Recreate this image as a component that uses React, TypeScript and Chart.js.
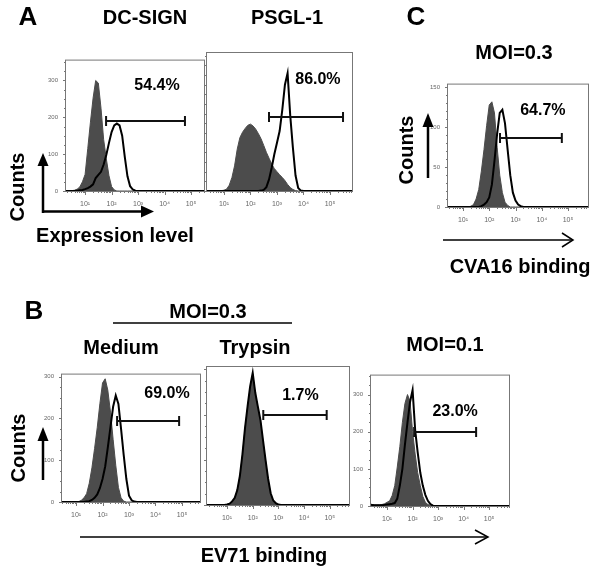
import React, { useEffect, useRef } from "react";
import { Chart, registerables } from "chart.js";
Chart.register(...registerables);

// Histogram bin centres (fluorescence intensity, 0.1-decade bins from 10^0.2 to 10^4)
const BINS = [1.58, 2.0, 2.51, 3.16, 3.98, 5.01, 6.31, 7.94, 10, 12.6, 15.8, 20, 25.1, 31.6, 39.8, 50.1, 63.1, 79.4, 100, 126, 158, 200, 251, 316, 398, 501, 631, 794, 1000, 1259, 1585, 1995, 2512, 3162, 3981, 5012, 6310, 7943, 10000];
const X_END = 1000000;

// Panel A: DC-SIGN
const A1_GRAY = [0, 0, 0, 1, 2, 5, 11, 25, 45, 115, 185, 252, 300, 293, 225, 140, 88, 42, 12, 3, 0, 0, 0, 0, 0, 0, 0, 0, 0, 0, 0, 0, 0, 0, 0, 0, 0, 0, 0];
const A1_BLACK = [0, 0, 0, 0, 0, 1, 2, 3, 5, 8, 12, 18, 35, 44, 52, 72, 98, 130, 160, 178, 183, 178, 150, 92, 40, 13, 4, 1, 0, 0, 0, 0, 0, 0, 0, 0, 0, 0, 0];
// Panel A: PSGL-1
const A2_GRAY = [0, 0, 0, 0, 0, 0, 0, 1, 2, 5, 15, 35, 65, 108, 138, 152, 162, 170, 173, 168, 160, 148, 135, 118, 100, 85, 70, 58, 50, 42, 35, 27, 17, 9, 4, 1, 0, 0, 0];
const A2_BLACK = [0, 0, 0, 0, 0, 0, 0, 0, 0, 0, 0, 0, 0, 0, 0, 0, 0, 0, 0, 0, 0, 0, 1, 3, 10, 30, 60, 95, 125, 155, 210, 275, 305, 195, 112, 40, 8, 1, 0];
// Panel C: CVA16 MOI=0.3
const C_GRAY = [0, 0, 0, 0, 0, 0, 0, 0, 0, 0, 0, 1, 3, 10, 22, 45, 72, 102, 128, 132, 118, 75, 40, 18, 6, 2, 0, 0, 0, 0, 0, 0, 0, 0, 0, 0, 0, 0, 0];
const C_BLACK = [0, 0, 0, 0, 0, 0, 0, 0, 0, 0, 0, 0, 0, 0, 0, 1, 3, 6, 12, 28, 58, 92, 118, 122, 105, 72, 40, 18, 8, 3, 1, 0, 0, 0, 0, 0, 0, 0, 0];
// Panel B: Medium
const B1_GRAY = [0, 0, 0, 0, 0, 0, 0, 0, 0, 1, 4, 10, 20, 45, 82, 128, 178, 235, 285, 295, 268, 215, 150, 88, 35, 10, 2, 0, 0, 0, 0, 0, 0, 0, 0, 0, 0, 0, 0];
const B1_BLACK = [0, 0, 0, 0, 0, 0, 0, 0, 0, 0, 0, 0, 1, 2, 5, 10, 18, 33, 55, 85, 130, 180, 228, 255, 235, 175, 112, 55, 15, 4, 1, 0, 0, 0, 0, 0, 0, 0, 0];
// Panel B: Trypsin
const B2_GRAY = [0, 0, 0, 0, 0, 0, 0, 0, 1, 3, 8, 15, 32, 62, 110, 168, 215, 258, 290, 245, 215, 185, 140, 98, 55, 24, 9, 3, 1, 0, 0, 0, 0, 0, 0, 0, 0, 0, 0];
const B2_BLACK = [0, 0, 0, 0, 0, 0, 0, 0, 1, 3, 8, 16, 33, 64, 112, 170, 218, 262, 292, 248, 218, 188, 144, 100, 58, 26, 10, 4, 1, 0, 0, 0, 0, 0, 0, 0, 0, 0, 0];
// Panel B: MOI=0.1
const B3_GRAY = [8, 6, 4, 3, 3, 3, 4, 6, 10, 14, 28, 55, 105, 160, 225, 276, 300, 282, 200, 140, 90, 55, 26, 10, 4, 1, 0, 0, 0, 0, 0, 0, 0, 0, 0, 0, 0, 0, 0];
const B3_BLACK = [6, 4, 3, 2, 2, 2, 2, 3, 4, 5, 6, 8, 20, 55, 100, 165, 225, 280, 312, 205, 145, 90, 55, 30, 14, 5, 1, 0, 0, 0, 0, 0, 0, 0, 0, 0, 0, 0, 0];

// Gates: [start, end, count level]; labels: [text, x, y]
const A1_GATE = [62, 59000, 191];
const A2_GATE = [500, 310000, 191];
const C_GATE = [257, 58000, 86];
const B1_GATE = [355, 78000, 193];
const B2_GATE = [258, 76000, 198];
const B3_GATE = [115, 31000, 200];
const A1_PCT: [string, number, number] = ["54.4%", 5200, 287];
const A2_PCT: [string, number, number] = ["86.0%", 35000, 287];
const C_PCT: [string, number, number] = ["64.7%", 11000, 121];
const B1_PCT: [string, number, number] = ["69.0%", 27000, 259];
const B2_PCT: [string, number, number] = ["1.7%", 7200, 241];
const B3_PCT: [string, number, number] = ["23.0%", 4650, 254];

const X_TICK_VALUES = [10, 100, 1000, 10000, 100000];
const X_TICK_LABELS = ["10\u00b9", "10\u00b2", "10\u00b3", "10\u2074", "10\u2075"];
const X_DECADES = [1, 10, 100, 1000, 10000, 100000];
const Y_TICKS_300 = [0, 100, 200, 300];
const Y_TICKS_150 = [0, 50, 100, 150];

type Panel = {
  key: string;
  left: number; top: number; right: number; bottom: number;
  xMin: number; xMax: number; yMax: number;
  yTicks: number[]; showY: boolean; yMajor: number; yMinor: number;
  gray: number[]; black: number[]; gate: number[]; pct: [string, number, number];
};

const PANELS: Panel[] = [
  { key: "a1", left: 66, top: 54, right: 204, bottom: 191, xMin: 1.9, xMax: 309000, yMax: 354, yTicks: Y_TICKS_300, showY: true, yMajor: 100, yMinor: 25, gray: A1_GRAY, black: A1_BLACK, gate: A1_GATE, pct: A1_PCT },
  { key: "a2", left: 207, top: 53, right: 352, bottom: 191, xMin: 2.29, xMax: 676000, yMax: 357, yTicks: Y_TICKS_300, showY: false, yMajor: 100, yMinor: 25, gray: A2_GRAY, black: A2_BLACK, gate: A2_GATE, pct: A2_PCT },
  { key: "c", left: 448, top: 78, right: 588, bottom: 207, xMin: 2.69, xMax: 575000, yMax: 153.6, yTicks: Y_TICKS_150, showY: true, yMajor: 50, yMinor: 10, gray: C_GRAY, black: C_BLACK, gate: C_GATE, pct: C_PCT },
  { key: "b1", left: 62, top: 368, right: 200, bottom: 502, xMin: 2.95, xMax: 479000, yMax: 305, yTicks: Y_TICKS_300, showY: true, yMajor: 100, yMinor: 25, gray: B1_GRAY, black: B1_BLACK, gate: B1_GATE, pct: B1_PCT },
  { key: "b2", left: 207, top: 367, right: 349, bottom: 505, xMin: 1.66, xMax: 562000, yMax: 305, yTicks: Y_TICKS_300, showY: false, yMajor: 100, yMinor: 25, gray: B2_GRAY, black: B2_BLACK, gate: B2_GATE, pct: B2_PCT },
  { key: "b3", left: 371, top: 369, right: 509, bottom: 506, xMin: 2.34, xMax: 603000, yMax: 351, yTicks: Y_TICKS_300, showY: true, yMajor: 100, yMinor: 25, gray: B3_GRAY, black: B3_BLACK, gate: B3_GATE, pct: B3_PCT },
];

const YW = 22, XH = 18, PT = 5, PR = 4;
const FONT = '"Liberation Sans", Arial, Helvetica, sans-serif';
const FILL = "rgb(76,76,76)";

function Histogram({ p }: { p: Panel }) {
  const ref = useRef<HTMLCanvasElement>(null);
  useEffect(() => {
    const toPts = (vals: number[]) => [
      ...BINS.map((x, i) => ({ x, y: vals[i] })),
      { x: X_END, y: 0 },
    ];
    const deco = {
      id: "deco" + p.key,
      beforeDatasetsDraw(chart: any) {
        const { ctx, chartArea: a } = chart;
        const xs = chart.scales.x, ys = chart.scales.y;
        ctx.save();
        ctx.strokeStyle = "#777";
        ctx.lineWidth = 1;
        ctx.strokeRect(a.left - 0.5, a.top - 0.5, a.right - a.left + 1, a.bottom - a.top + 1);
        ctx.beginPath();
        for (const d of X_DECADES) {
          for (let m = 1; m <= 9; m++) {
            const v = d * m;
            if (v < p.xMin || v > p.xMax) continue;
            const px = Math.round(xs.getPixelForValue(v)) + 0.5;
            ctx.moveTo(px, a.bottom);
            ctx.lineTo(px, a.bottom + (m === 1 ? 4 : 2));
          }
        }
        for (let v = 0; v <= p.yMax; v += p.yMinor) {
          const py = Math.round(ys.getPixelForValue(v)) + 0.5;
          ctx.moveTo(a.left, py);
          ctx.lineTo(a.left - (v % p.yMajor === 0 ? 3 : 2), py);
        }
        ctx.stroke();
        ctx.restore();
      },
      afterDatasetsDraw(chart: any) {
        const { ctx } = chart;
        const xs = chart.scales.x, ys = chart.scales.y;
        const x1 = xs.getPixelForValue(p.gate[0]);
        const x2 = xs.getPixelForValue(p.gate[1]);
        const gy = Math.round(ys.getPixelForValue(p.gate[2]));
        ctx.save();
        ctx.strokeStyle = "#111";
        ctx.lineWidth = 2;
        ctx.beginPath();
        ctx.moveTo(x1, gy); ctx.lineTo(x2, gy);
        ctx.moveTo(x1, gy - 5); ctx.lineTo(x1, gy + 5);
        ctx.moveTo(x2, gy - 5); ctx.lineTo(x2, gy + 5);
        ctx.stroke();
        ctx.fillStyle = "#000";
        ctx.font = `bold 16px ${FONT}`;
        ctx.textAlign = "center";
        ctx.textBaseline = "middle";
        ctx.fillText(p.pct[0], xs.getPixelForValue(p.pct[1]), ys.getPixelForValue(p.pct[2]));
        ctx.restore();
      },
    };
    const chart = new Chart(ref.current as HTMLCanvasElement, {
      type: "line",
      data: {
        datasets: [
          { data: toPts(p.black), borderColor: "#000", borderWidth: 2, pointRadius: 0, fill: false, tension: 0 },
          { data: toPts(p.gray), borderColor: FILL, borderWidth: 1, backgroundColor: FILL, pointRadius: 0, fill: "origin", tension: 0 },
        ],
      },
      options: {
        responsive: false,
        animation: false,
        events: [],
        layout: { padding: { top: PT, right: PR, left: 0, bottom: 0 } },
        plugins: { legend: { display: false }, tooltip: { enabled: false } },
        scales: {
          x: {
            type: "logarithmic", min: p.xMin, max: p.xMax, bounds: "data",
            grid: { display: false, drawTicks: false }, border: { display: false },
            afterBuildTicks: (s: any) => { s.ticks = X_TICK_VALUES.map((v) => ({ value: v })); },
            afterFit: (s: any) => { s.height = XH; },
            ticks: {
              autoSkip: false, maxRotation: 0, minRotation: 0, padding: 9, color: "#666",
              font: { size: 7, family: FONT },
              callback: (v: any) => { const i = X_TICK_VALUES.indexOf(Number(v)); return i >= 0 ? X_TICK_LABELS[i] : ""; },
            },
          },
          y: {
            type: "linear", min: 0, max: p.yMax, bounds: "data",
            grid: { display: false, drawTicks: false }, border: { display: false },
            afterBuildTicks: (s: any) => { s.ticks = p.yTicks.map((v) => ({ value: v })); },
            afterFit: (s: any) => { s.width = YW; },
            ticks: {
              display: p.showY, autoSkip: false, padding: 8, color: "#666",
              font: { size: 6, family: FONT },
              callback: (v: any) => String(v),
            },
          },
        },
      } as any,
      plugins: [deco],
    });
    return () => chart.destroy();
  }, []);
  const w = YW + (p.right - p.left) + PR;
  const h = PT + (p.bottom - p.top) + XH;
  return (
    <canvas
      ref={ref}
      width={w}
      height={h}
      style={{ position: "absolute", left: p.left - YW, top: p.top - PT, width: w, height: h }}
    />
  );
}

type Txt = { t: string; x: number; y: number; s: number; rot?: boolean };
const TEXTS: Txt[] = [
  { t: "A", x: 28, y: 16, s: 26 },
  { t: "DC-SIGN", x: 145, y: 17, s: 20 },
  { t: "PSGL-1", x: 287, y: 17, s: 20 },
  { t: "Counts", x: 17, y: 187, s: 20, rot: true },
  { t: "Expression level", x: 115, y: 235, s: 20 },
  { t: "C", x: 416, y: 16, s: 26 },
  { t: "MOI=0.3", x: 514, y: 52, s: 20 },
  { t: "Counts", x: 406, y: 150, s: 20, rot: true },
  { t: "CVA16 binding", x: 520, y: 266, s: 20 },
  { t: "B", x: 34, y: 310, s: 26 },
  { t: "MOI=0.3", x: 208, y: 311, s: 20 },
  { t: "Medium", x: 121, y: 347, s: 20 },
  { t: "Trypsin", x: 255, y: 347, s: 20 },
  { t: "MOI=0.1", x: 445, y: 344, s: 20 },
  { t: "Counts", x: 18, y: 448, s: 20, rot: true },
  { t: "EV71 binding", x: 264, y: 555, s: 20 },
];

export default function App() {
  return (
    <div style={{ position: "absolute", left: 0, top: 0, width: 600, height: 569, background: "#fff", overflow: "hidden" }}>
      {PANELS.map((p) => (
        <Histogram key={p.key} p={p} />
      ))}
      <svg width={600} height={569} style={{ position: "absolute", left: 0, top: 0, pointerEvents: "none" }}>
        <g stroke="#000" fill="none">
          <line x1={43} y1={213} x2={43} y2={163} strokeWidth={2.5} />
          <line x1={42} y1={211.5} x2={143} y2={211.5} strokeWidth={2.5} />
          <line x1={428} y1={178} x2={428} y2={125} strokeWidth={2.5} />
          <line x1={443} y1={240} x2={573} y2={240} strokeWidth={1.5} />
          <polyline points="562,233 573,240 562,247" strokeWidth={1.5} />
          <line x1={43} y1={480} x2={43} y2={438} strokeWidth={2.5} />
          <line x1={80} y1={537} x2={488} y2={537} strokeWidth={1.5} />
          <polyline points="475,530 488,537 475,544" strokeWidth={1.5} />
          <line x1={113} y1={323} x2={292} y2={323} strokeWidth={1.5} />
        </g>
        <g fill="#000">
          <polygon points="43,153 37.5,166 48.5,166" />
          <polygon points="154,211.5 141,205.5 141,217.5" />
          <polygon points="428,113 422.5,127 433.5,127" />
          <polygon points="43,427 37.5,441 48.5,441" />
        </g>
      </svg>
      {TEXTS.map((d, i) => (
        <div
          key={i}
          style={{
            position: "absolute", left: d.x, top: d.y,
            transform: `translate(-50%, -50%)${d.rot ? " rotate(-90deg)" : ""}`,
            fontFamily: FONT, fontWeight: "bold", fontSize: d.s, lineHeight: 1,
            whiteSpace: "nowrap", color: "#000",
          }}
        >
          {d.t}
        </div>
      ))}
    </div>
  );
}
